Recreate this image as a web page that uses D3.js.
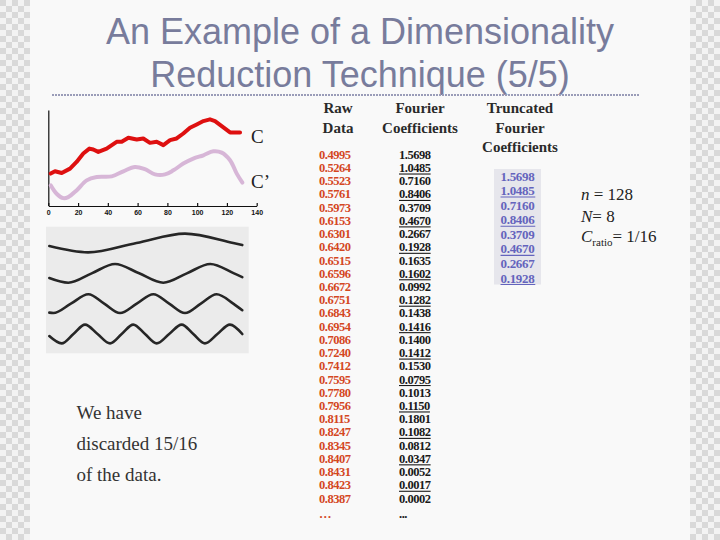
<!DOCTYPE html>
<html>
<head>
<meta charset="utf-8">
<script src="https://cdn.jsdelivr.net/npm/d3@7"></script>
<style>
  html, body { margin: 0; padding: 0; background: #f9f9f9; }
  svg { display: block; }
</style>
</head>
<body>
<svg id="slide" width="720" height="540"></svg>
<script>
// time series C and its reconstruction C' (x = sample index, y = value)
var cSeries = [[1.6,0.334],[4.5,0.358],[9,0.34],[14.6,0.386],[19,0.456],[23.5,0.544],[27.6,0.596],
  [30.2,0.586],[33.6,0.561],[39.2,0.596],[45.9,0.667],[49.3,0.667],[53.8,0.709],[59.4,0.691],
  [63.8,0.702],[68.3,0.656],[72.8,0.667],[77.3,0.632],[81.8,0.684],[86.2,0.702],[90.7,0.754],
  [95.2,0.814],[99.7,0.849],[104.2,0.884],[108.6,0.902],[112,0.884],[116.5,0.832],[122.1,0.765],[128.8,0.765]]
var cPrimeSeries = [[1.6,0.211],[5.6,0.123],[10.1,0.077],[13.4,0.088],[19,0.158],[25.8,0.263],
  [32.5,0.298],[42.6,0.305],[50.4,0.358],[58.2,0.404],[64.9,0.38],[71.7,0.326],[78.4,0.326],
  [84,0.368],[90.7,0.439],[97.4,0.491],[104.2,0.526],[110.9,0.568],[116.5,0.554],[122.1,0.474],
  [126.6,0.334],[130.4,0.239]]
var xTicks = [0, 20, 40, 60, 80, 100, 120, 140]

// the four basis waves (x = sample index 0..128, y = -1..1)
var wave1 = [[0,-0.33],[25.7,-1],[57.8,0],[90,1],[122,0],[128,-0.22]]
var wave2 = [[0,-0.5],[12.6,-1],[28.1,0],[43.6,1],[59.6,0],[75.6,-1],[91.2,0],[106.8,1],[122.5,0],[128,-0.4]]
var wave3 = [[0,-0.95],[2.7,-1],[14.3,0],[25.9,1],[36.4,0],[46.9,-1],[58,0],[69,1],[79.5,0],
  [90,-1],[100.5,0],[111,1],[122,0],[128,-0.7]]
var wave4 = [[0,-0.22],[8.2,-1],[16,0],[23.7,1],[32,0],[40.3,-1],[48,0],[55.7,1],[63.5,0],
  [71.2,-1],[79.5,0],[87.8,1],[95.5,0],[103.2,-1],[111.5,0],[119.8,1],[128,0]]

var rawData = ["0.4995","0.5264","0.5523","0.5761","0.5973","0.6153","0.6301","0.6420","0.6515",
  "0.6596","0.6672","0.6751","0.6843","0.6954","0.7086","0.7240","0.7412","0.7595","0.7780",
  "0.7956","0.8115","0.8247","0.8345","0.8407","0.8431","0.8423","0.8387"]
var fourierCoeffs = ["1.5698","1.0485","0.7160","0.8406","0.3709","0.4670","0.2667","0.1928",
  "0.1635","0.1602","0.0992","0.1282","0.1438","0.1416","0.1400","0.1412","0.1530","0.0795",
  "0.1013","0.1150","0.1801","0.1082","0.0812","0.0347","0.0052","0.0017","0.0002"]
var truncatedCoeffs = fourierCoeffs.slice(0, 8)

var svg = d3.select("#slide")
var serif = "'Liberation Serif', 'Times New Roman', serif"

// checkered side borders
var defs = svg.append("defs")
var pat = defs.append("pattern").attr("id", "checker")
  .attr("width", 12).attr("height", 12).attr("patternUnits", "userSpaceOnUse")
pat.append("rect").attr("width", 12).attr("height", 12).attr("fill", "#f3f3f3")
pat.append("rect").attr("width", 6).attr("height", 6).attr("fill", "#d9d9d9")
pat.append("rect").attr("x", 6).attr("y", 6).attr("width", 6).attr("height", 6).attr("fill", "#d9d9d9")
svg.append("rect").attr("x", 0).attr("y", 0).attr("width", 30).attr("height", 540).attr("fill", "url(#checker)")
svg.append("rect").attr("x", 690).attr("y", 0).attr("width", 30).attr("height", 540).attr("fill", "url(#checker)")

// title
var title = svg.append("g")
  .attr("font-family", "'Liberation Sans', Arial, sans-serif")
  .attr("font-size", 36).attr("fill", "#787c9c").attr("text-anchor", "middle")
title.append("text").attr("x", 360).attr("y", 44).text("An Example of a Dimensionality")
title.append("text").attr("x", 360).attr("y", 87).text("Reduction Technique (5/5)")
svg.append("line").attr("x1", 52).attr("x2", 640).attr("y1", 95).attr("y2", 95)
  .attr("stroke", "#9a9cb8").attr("stroke-width", 2).attr("stroke-dasharray", "2,1")

// C and C' plot
var xC = d3.scaleLinear().domain([0, 140]).range([48.3, 256.7])
var yC = d3.scaleLinear().domain([0, 1]).range([205.5, 110])

svg.append("g").attr("transform", "translate(0,206)")
  .call(d3.axisBottom(xC).tickValues(xTicks).tickSize(-3).tickSizeOuter(0).tickPadding(4))
  .call(function (g) {
    g.selectAll("text").attr("font-size", 7).attr("font-weight", "bold")
      .attr("font-family", "'Liberation Sans', Arial, sans-serif").attr("fill", "#111")
    g.selectAll("line, path").attr("stroke", "#111").attr("stroke-width", 1.2)
  })
svg.append("g").attr("transform", "translate(48.3,0)")
  .call(d3.axisLeft(yC).tickValues([]).tickSizeOuter(0))
  .call(function (g) {
    g.selectAll("path").attr("stroke", "#111").attr("stroke-width", 1.2)
  })

var cLine = d3.line()
  .x(function (d) { return xC(d[0]) })
  .y(function (d) { return yC(d[1]) })

svg.append("path").datum(cPrimeSeries)
  .attr("d", cLine.curve(d3.curveCatmullRom))
  .attr("fill", "none").attr("stroke", "#d7b6d7").attr("stroke-width", 4)
  .attr("stroke-linecap", "round")
svg.append("path").datum(cSeries)
  .attr("d", cLine.curve(d3.curveLinear))
  .attr("fill", "none").attr("stroke", "#de1010").attr("stroke-width", 4)
  .attr("stroke-linejoin", "round").attr("stroke-linecap", "round")

svg.append("text").attr("x", 251).attr("y", 143).attr("font-family", serif)
  .attr("font-size", 19).attr("fill", "#222").text("C")
svg.append("text").attr("x", 251).attr("y", 188).attr("font-family", serif)
  .attr("font-size", 19).attr("fill", "#222").text("C\u2019")

// basis waves panel
svg.append("rect").attr("x", 46).attr("y", 226.7).attr("width", 202.7).attr("height", 126.6)
  .attr("fill", "#ebebeb")

var xW = d3.scaleLinear().domain([0, 128]).range([49.3, 242.3])
var rowW = d3.scalePoint().domain([0, 1, 2, 3]).range([243, 334])
var ampW = d3.scaleLinear().domain([-1, 1]).range([9.4, -9.4])

svg.selectAll(".wave").data([wave1, wave2, wave3, wave4]).enter().append("path")
  .attr("class", "wave")
  .attr("d", function (w, i) {
    return d3.line()
      .x(function (d) { return xW(d[0]) })
      .y(function (d) { return rowW(i) + ampW(d[1]) })
      .curve(d3.curveMonotoneX)(w)
  })
  .attr("fill", "none").attr("stroke", "#262626").attr("stroke-width", 2.6)
  .attr("stroke-linecap", "round")

// note under the waves
var note = svg.append("g").attr("font-family", serif).attr("font-size", 19).attr("fill", "#333")
;["We have", "discarded 15/16", "of the data."].forEach(function (s, i) {
  note.append("text").attr("x", 76.5).attr("y", 418.5 + i * 31).text(s)
})

// column headers
var head = svg.append("g").attr("font-family", serif).attr("font-size", 15)
  .attr("font-weight", "bold").attr("fill", "#2a2a2a").attr("text-anchor", "middle")
function headLines(x, lines) {
  lines.forEach(function (s, i) {
    head.append("text").attr("x", x).attr("y", 113 + i * 19.5).text(s)
  })
}
headLines(338, ["Raw", "Data"])
headLines(420, ["Fourier", "Coefficients"])
headLines(520, ["Truncated", "Fourier", "Coefficients"])

// number columns
var rowY = d3.scaleLinear().domain([0, 26]).range([158.8, 502.5])

function underline(sel, color) {
  sel.each(function (d, i) {
    if (i % 2 === 1) {
      var bb = this.getBBox()
      var y = +d3.select(this).attr("y") + 2
      d3.select(this.parentNode).append("line")
        .attr("x1", bb.x).attr("x2", bb.x + bb.width)
        .attr("y1", y).attr("y2", y)
        .attr("stroke", color).attr("stroke-width", 1.1)
    }
  })
}

var rawG = svg.append("g").attr("font-family", serif).attr("font-size", 12.5)
  .attr("font-weight", "bold").attr("fill", "#d4471f").attr("letter-spacing", -0.5)
rawG.selectAll("text").data(rawData).enter().append("text")
  .attr("x", 319).attr("y", function (d, i) { return rowY(i) }).text(function (d) { return d })
rawG.append("text").attr("x", 319).attr("y", rowY(27) + 2.5).text("\u2026")

var fouG = svg.append("g").attr("font-family", serif).attr("font-size", 12.5)
  .attr("font-weight", "bold").attr("fill", "#1a1a1a").attr("letter-spacing", -0.5)
fouG.selectAll("text").data(fourierCoeffs).enter().append("text")
  .attr("x", 399).attr("y", function (d, i) { return rowY(i) }).text(function (d) { return d })
  .call(underline, "#1a1a1a")
fouG.append("text").attr("x", 399).attr("y", rowY(27) + 2.5).text("...")

svg.append("rect").attr("x", 494).attr("y", 169).attr("width", 47).attr("height", 115.5)
  .attr("fill", "#e6e6ec")
var truncY = d3.scaleLinear().domain([0, 7]).range([180.5, 282.5])
var truG = svg.append("g").attr("font-family", serif).attr("font-size", 13)
  .attr("font-weight", "bold").attr("fill", "#6464bd").attr("text-anchor", "middle")
  .attr("letter-spacing", -0.3)
truG.selectAll("text").data(truncatedCoeffs).enter().append("text")
  .attr("x", 517.5).attr("y", function (d, i) { return truncY(i) }).text(function (d) { return d })
  .call(underline, "#6464bd")

// parameters
var par = svg.append("g").attr("font-family", serif).attr("font-size", 17).attr("fill", "#222")
var t1 = par.append("text").attr("x", 581).attr("y", 199.5)
t1.append("tspan").attr("font-style", "italic").text("n")
t1.append("tspan").text(" = 128")
var t2 = par.append("text").attr("x", 581).attr("y", 221.5)
t2.append("tspan").attr("font-style", "italic").text("N")
t2.append("tspan").text("= 8")
var t3 = par.append("text").attr("x", 581).attr("y", 242)
t3.append("tspan").attr("font-style", "italic").text("C")
t3.append("tspan").attr("font-size", 11).attr("dy", 4).text("ratio")
t3.append("tspan").attr("dy", -4).text("= 1/16")
</script>
</body>
</html>
